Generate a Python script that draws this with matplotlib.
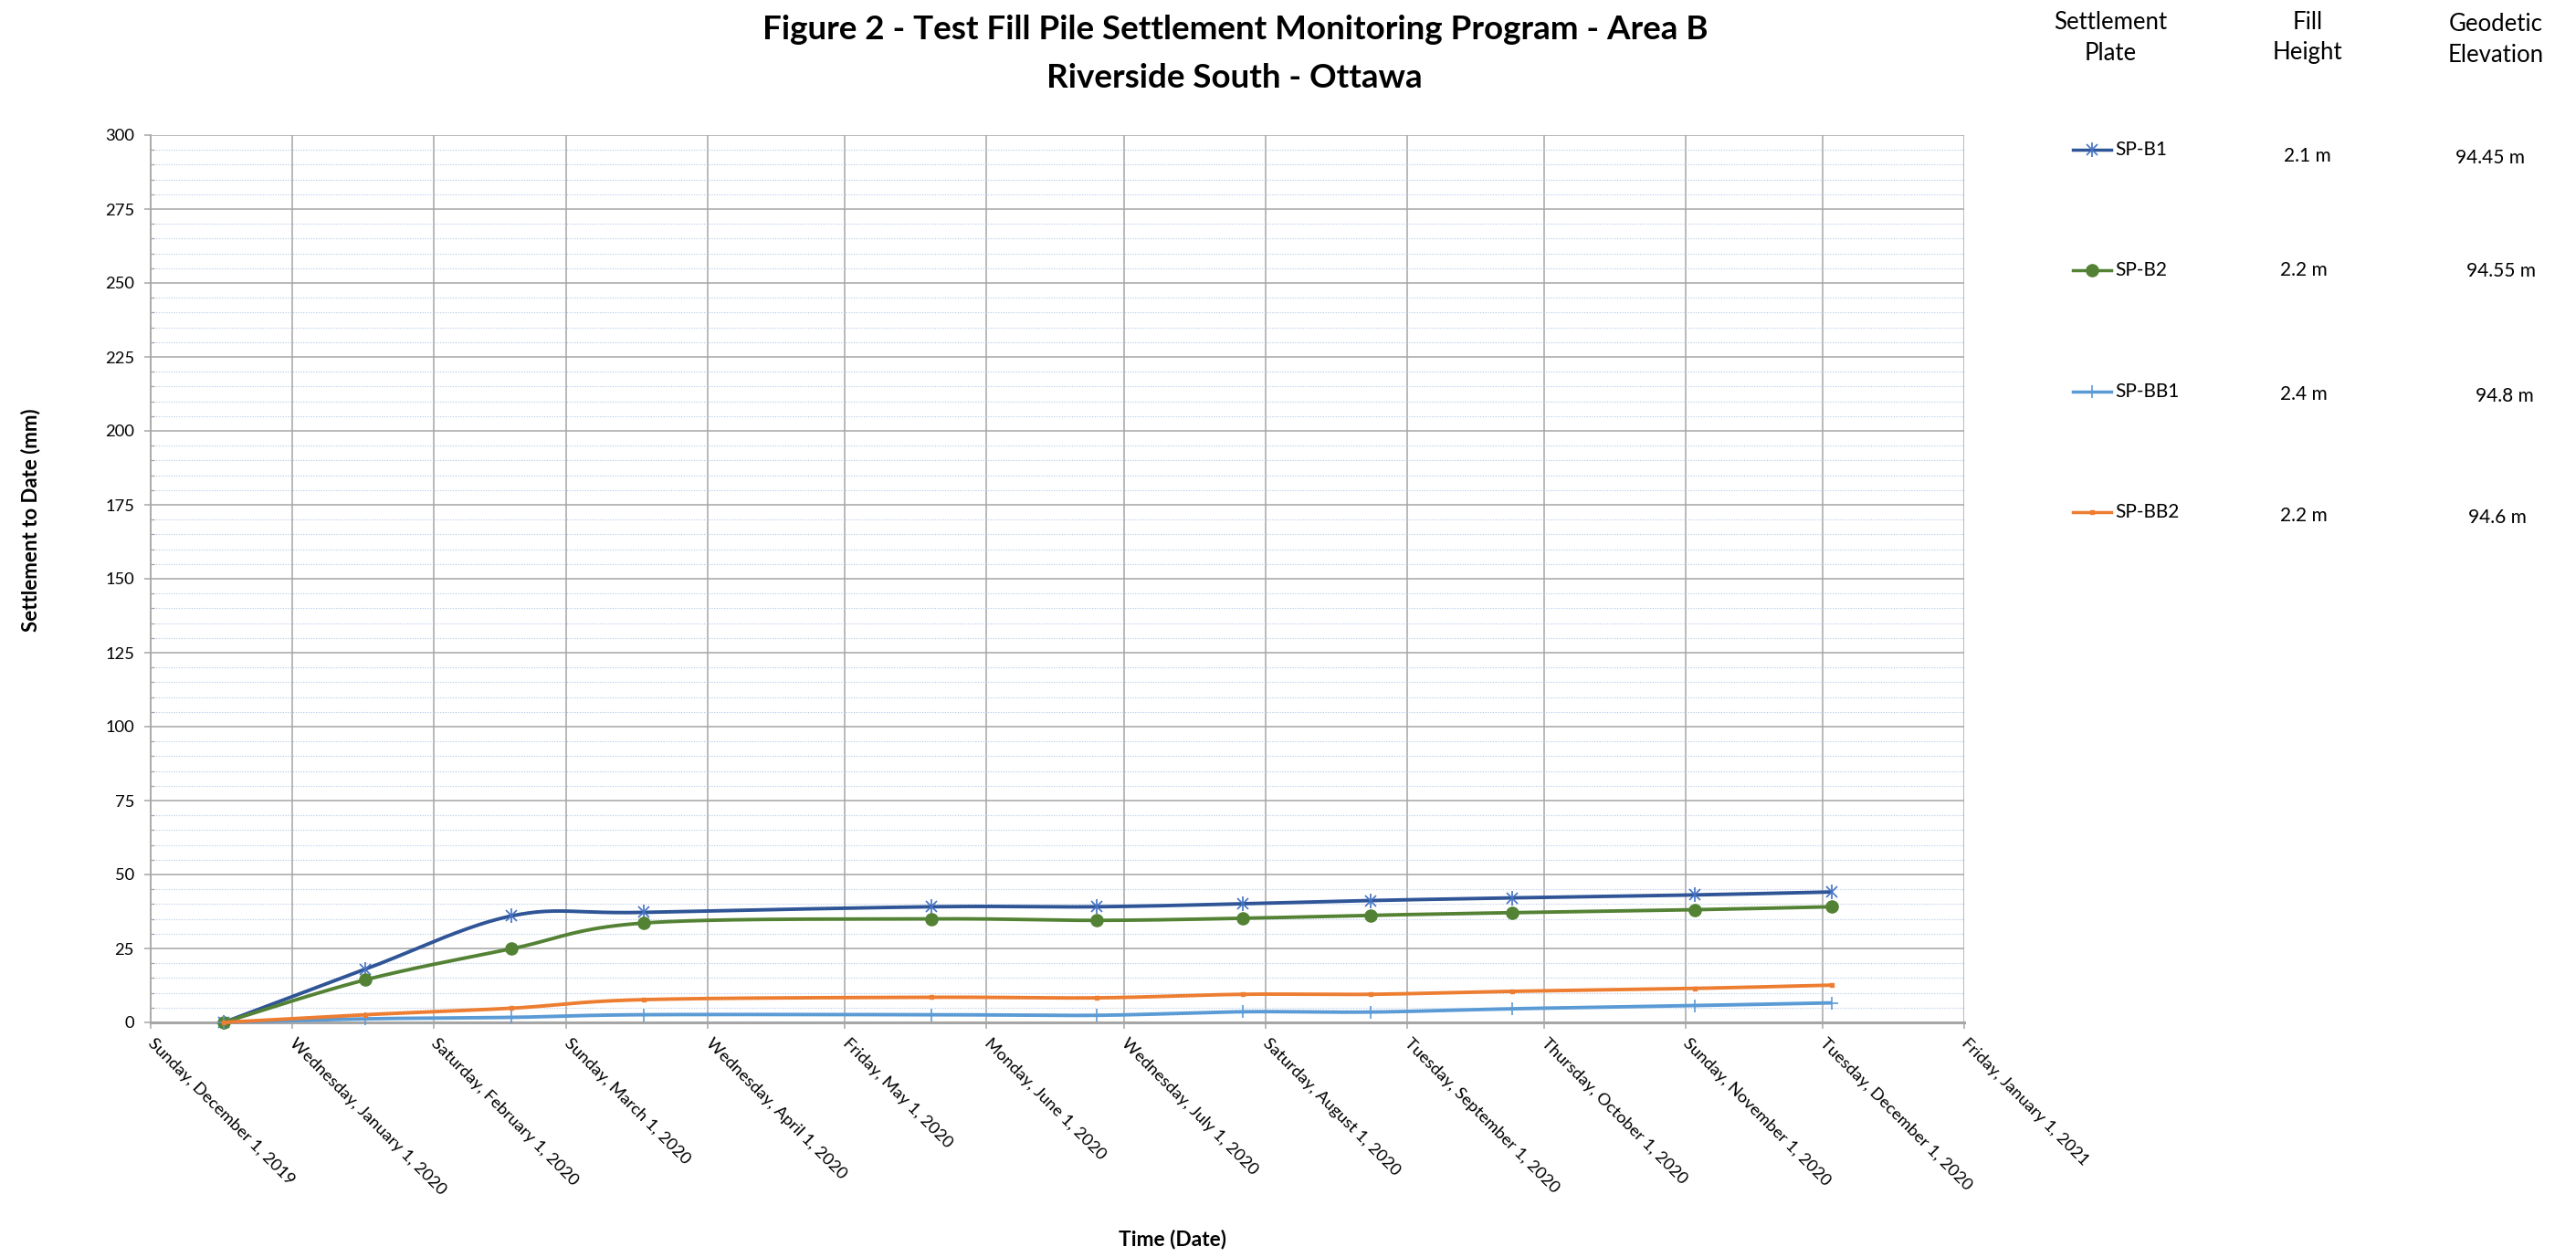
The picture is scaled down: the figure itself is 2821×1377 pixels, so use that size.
import datetime as dt
import numpy as np
import matplotlib
matplotlib.use("Agg")
import matplotlib.pyplot as plt
import matplotlib.dates as mdates
from matplotlib.lines import Line2D
from matplotlib.ticker import MultipleLocator, FuncFormatter

plt.rcParams['font.family'] = ['Lato', 'DejaVu Sans']

# ---------------- data ----------------
dates = ["2019-12-17", "2020-01-17", "2020-02-18", "2020-03-18", "2020-05-20",
         "2020-06-25", "2020-07-27", "2020-08-24", "2020-09-24", "2020-11-03",
         "2020-12-03"]
sp_b1 = [0.0, 18.0, 36.0, 37.2, 39.1, 39.1, 40.1, 41.2, 42.1, 43.1, 44.1]
sp_b2 = [0.0, 14.4, 24.9, 33.6, 35.0, 34.5, 35.2, 36.2, 37.1, 38.1, 39.1]
sp_bb1 = [0.0, 1.2, 1.7, 2.6, 2.6, 2.4, 3.6, 3.5, 4.6, 5.7, 6.6]
sp_bb2 = [0.0, 2.6, 4.8, 7.7, 8.5, 8.3, 9.5, 9.5, 10.5, 11.5, 12.6]

series_names = ["SP-B1", "SP-B2", "SP-BB1", "SP-BB2"]
fill_heights = ["2.1 m", "2.2 m", "2.4 m", "2.2 m"]
elevations = ["94.45 m", "94.55 m", "94.8 m", "94.6 m"]

title_lines = ["Figure 2 - Test Fill Pile Settlement Monitoring Program - Area B",
               "Riverside South - Ottawa"]
x_start, x_end = "2019-12-01", "2021-01-01"
y_min, y_max = 0, 300

# ---------------- style ----------------
W, H = 2821, 1377
DPI = 100
fig = plt.figure(figsize=(W / DPI, H / DPI), dpi=DPI)


def fx(px):
    return px / W


def fy(py):
    return 1 - py / H


ax = fig.add_axes([fx(165), fy(1120), fx(2151) - fx(165), fy(148) - fy(1120)])

x_nums = mdates.date2num([dt.datetime.fromisoformat(d) for d in dates])


def excel_smooth(x, y, n=40):
    """Excel-like smoothed line: cubic Bezier with control points (P[i+1]-P[i-1])/6."""
    x = np.asarray(x, float)
    y = np.asarray(y, float)
    px = np.concatenate([[x[0]], x, [x[-1]]])
    py = np.concatenate([[y[0]], y, [y[-1]]])
    outx, outy = [], []
    t = np.linspace(0, 1, n)
    for i in range(1, len(px) - 2):
        p0x, p0y = px[i], py[i]
        p3x, p3y = px[i + 1], py[i + 1]
        c1x = p0x + (px[i + 1] - px[i - 1]) / 6
        c1y = p0y + (py[i + 1] - py[i - 1]) / 6
        c2x = p3x - (px[i + 2] - px[i]) / 6
        c2y = p3y - (py[i + 2] - py[i]) / 6
        bx = ((1 - t) ** 3) * p0x + 3 * ((1 - t) ** 2) * t * c1x + 3 * (1 - t) * t ** 2 * c2x + t ** 3 * p3x
        by = ((1 - t) ** 3) * p0y + 3 * ((1 - t) ** 2) * t * c1y + 3 * (1 - t) * t ** 2 * c2y + t ** 3 * p3y
        outx.append(bx)
        outy.append(by)
    return np.concatenate(outx), np.concatenate(outy)


# scale factors so smoothing happens in screen-proportional space
x_px_per_day = (2151 - 165) / (mdates.date2num(dt.datetime.fromisoformat(x_end)) -
                               mdates.date2num(dt.datetime.fromisoformat(x_start)))
y_px_per_unit = (1120 - 148) / (y_max - y_min)


def smooth_screen(x, y):
    sx, sy = excel_smooth(np.asarray(x) * x_px_per_day, np.asarray(y) * y_px_per_unit)
    return sx / x_px_per_day, sy / y_px_per_unit


styles = [
    dict(color="#2F5597", mcolor="#4472C4"),
    dict(color="#548235", mcolor="#548235"),
    dict(color="#5B9BD5", mcolor="#5B9BD5"),
    dict(color="#ED7D31", mcolor="#ED7D31"),
]
all_series = [sp_b1, sp_b2, sp_bb1, sp_bb2]
LW = 2.8


def draw_marker(target, k, xs, ys, z=None, **kw):
    st = styles[k]
    common = dict(ls='none', clip_on=False)
    if z is not None:
        common['zorder'] = z
    common.update(kw)
    if k == 0:
        target.plot(xs, ys, marker='x', ms=9, mew=1.2, color=st["mcolor"], **common)
        target.plot(xs, ys, marker='|', ms=12, mew=1.2, color=st["mcolor"], **common)
    elif k == 1:
        target.plot(xs, ys, marker='o', ms=9.5, color=st["mcolor"], mec=st["mcolor"], **common)
    elif k == 2:
        target.plot(xs, ys, marker='+', ms=10, mew=1.2, color=st["mcolor"], **common)
    else:
        target.plot(xs, ys, marker='s', ms=3.5, color=st["mcolor"], **common)


for k, vals in enumerate(all_series):
    st = styles[k]
    sx, sy = smooth_screen(x_nums, vals)
    z = 3 + k
    ax.plot(sx, sy, color=st["color"], lw=LW, solid_capstyle='butt', zorder=z, clip_on=False)
    draw_marker(ax, k, x_nums, vals, z=z + 0.5)

# axes limits & ticks
ax.set_xlim(mdates.date2num(dt.datetime.fromisoformat(x_start)),
            mdates.date2num(dt.datetime.fromisoformat(x_end)))
ax.set_ylim(y_min, y_max)

ax.xaxis.set_major_locator(mdates.MonthLocator(bymonthday=1))


def date_fmt(v, pos=None):
    d = mdates.num2date(v)
    return f"{d:%A}, {d:%B} {d.day}, {d.year}"


ax.xaxis.set_major_formatter(FuncFormatter(date_fmt))
ax.yaxis.set_major_locator(MultipleLocator(25))
ax.yaxis.set_minor_locator(MultipleLocator(5))

GRAY = "#A6A6A6"
ax.grid(which='major', axis='both', color=GRAY, lw=1.1, zorder=0)
ax.grid(which='minor', axis='y', color="#B4C7E7", lw=0.8, ls=(0, (1, 1.5)), zorder=0)
ax.set_axisbelow(True)

for s in ['top', 'right']:
    ax.spines[s].set_visible(False)
ax.spines['left'].set_color(GRAY)
ax.spines['left'].set_linewidth(1.3)
ax.spines['bottom'].set_color(GRAY)
ax.spines['bottom'].set_linewidth(2.2)
ax.spines['bottom'].set_zorder(2)

TICK_FS = 13.2
ax.tick_params(axis='y', which='major', length=5, width=1.1, color=GRAY, labelsize=TICK_FS, pad=8)
ax.tick_params(axis='y', which='minor', length=3, width=0.9, color=GRAY, direction='in')
ax.tick_params(axis='x', which='major', length=5, width=1.1, color=GRAY, labelsize=TICK_FS, pad=10)

for lab in ax.get_xticklabels():
    lab.set_rotation(-45)
    lab.set_rotation_mode('anchor')
    lab.set_ha('left')
    lab.set_va('center')

# ---------------- texts ----------------
renderer = fig.canvas.get_renderer()


def fit(txt, target, dim='w'):
    for _ in range(3):
        bb = txt.get_window_extent(renderer=renderer)
        cur = bb.width if dim == 'w' else bb.height
        txt.set_fontsize(txt.get_fontsize() * target / cur)


t1 = fig.text(fx(1353), fy(43), title_lines[0], ha='center', va='baseline', fontweight='bold', fontsize=22)
fit(t1, 1036)
t2 = fig.text(fx(1352), fy(96), title_lines[1], ha='center', va='baseline', fontweight='bold',
              fontsize=t1.get_fontsize())

yl = fig.text(fx(34), fy(570), "Settlement to Date (mm)", rotation=90, ha='center', va='center',
              fontweight='bold', fontsize=15)
fit(yl, 245, 'h')
xl = fig.text(fx(1284), fy(1358), "Time (Date)", ha='center', va='center', fontweight='bold', fontsize=15)
fit(xl, 118)

# header of legend table
hdr_fs = 18.5
for (cx, l1, l2, y1, y2) in [(2311, "Settlement", "Plate", 24, 58),
                              (2527, "Fill", "Height", 24, 58),
                              (2733, "Geodetic", "Elevation", 27, 61)]:
    fig.text(fx(cx), fy(y1), l1, ha='center', va='center', fontsize=hdr_fs)
    fig.text(fx(cx), fy(y2), l2, ha='center', va='center', fontsize=hdr_fs)

# legend rows
row_y = [164, 296, 429, 561]
fill_pos = [(2527, 171), (2523, 296), (2523, 432), (2523, 565)]
elev_pos = [(2727, 173), (2739, 297), (2743, 434), (2735, 567)]
leg_fs = 15
for k in range(4):
    st = styles[k]
    yy = fy(row_y[k])
    fig.add_artist(Line2D([fx(2270), fx(2312)], [yy, yy], transform=fig.transFigure,
                          color=st["color"], lw=2.5))
    mx = [(fx(2270) + fx(2312)) / 2]
    marker_kw = dict(transform=fig.transFigure, ls='none')
    if k == 0:
        fig.add_artist(Line2D(mx, [yy], marker='x', ms=9, mew=1.2, color=st["mcolor"], **marker_kw))
        fig.add_artist(Line2D(mx, [yy], marker='|', ms=12, mew=1.2, color=st["mcolor"], **marker_kw))
    elif k == 1:
        fig.add_artist(Line2D(mx, [yy], marker='o', ms=9.5, color=st["mcolor"], **marker_kw))
    elif k == 2:
        fig.add_artist(Line2D(mx, [yy], marker='+', ms=10, mew=1.2, color=st["mcolor"], **marker_kw))
    else:
        fig.add_artist(Line2D(mx, [yy], marker='s', ms=3.5, color=st["mcolor"], **marker_kw))
    fig.text(fx(2316), yy, series_names[k], ha='left', va='center', fontsize=leg_fs)
    fig.text(fx(fill_pos[k][0]), fy(fill_pos[k][1]), fill_heights[k], ha='center', va='center', fontsize=leg_fs)
    fig.text(fx(elev_pos[k][0]), fy(elev_pos[k][1]), elevations[k], ha='center', va='center', fontsize=leg_fs)

fig.savefig("out.png", dpi=DPI, facecolor='white')
